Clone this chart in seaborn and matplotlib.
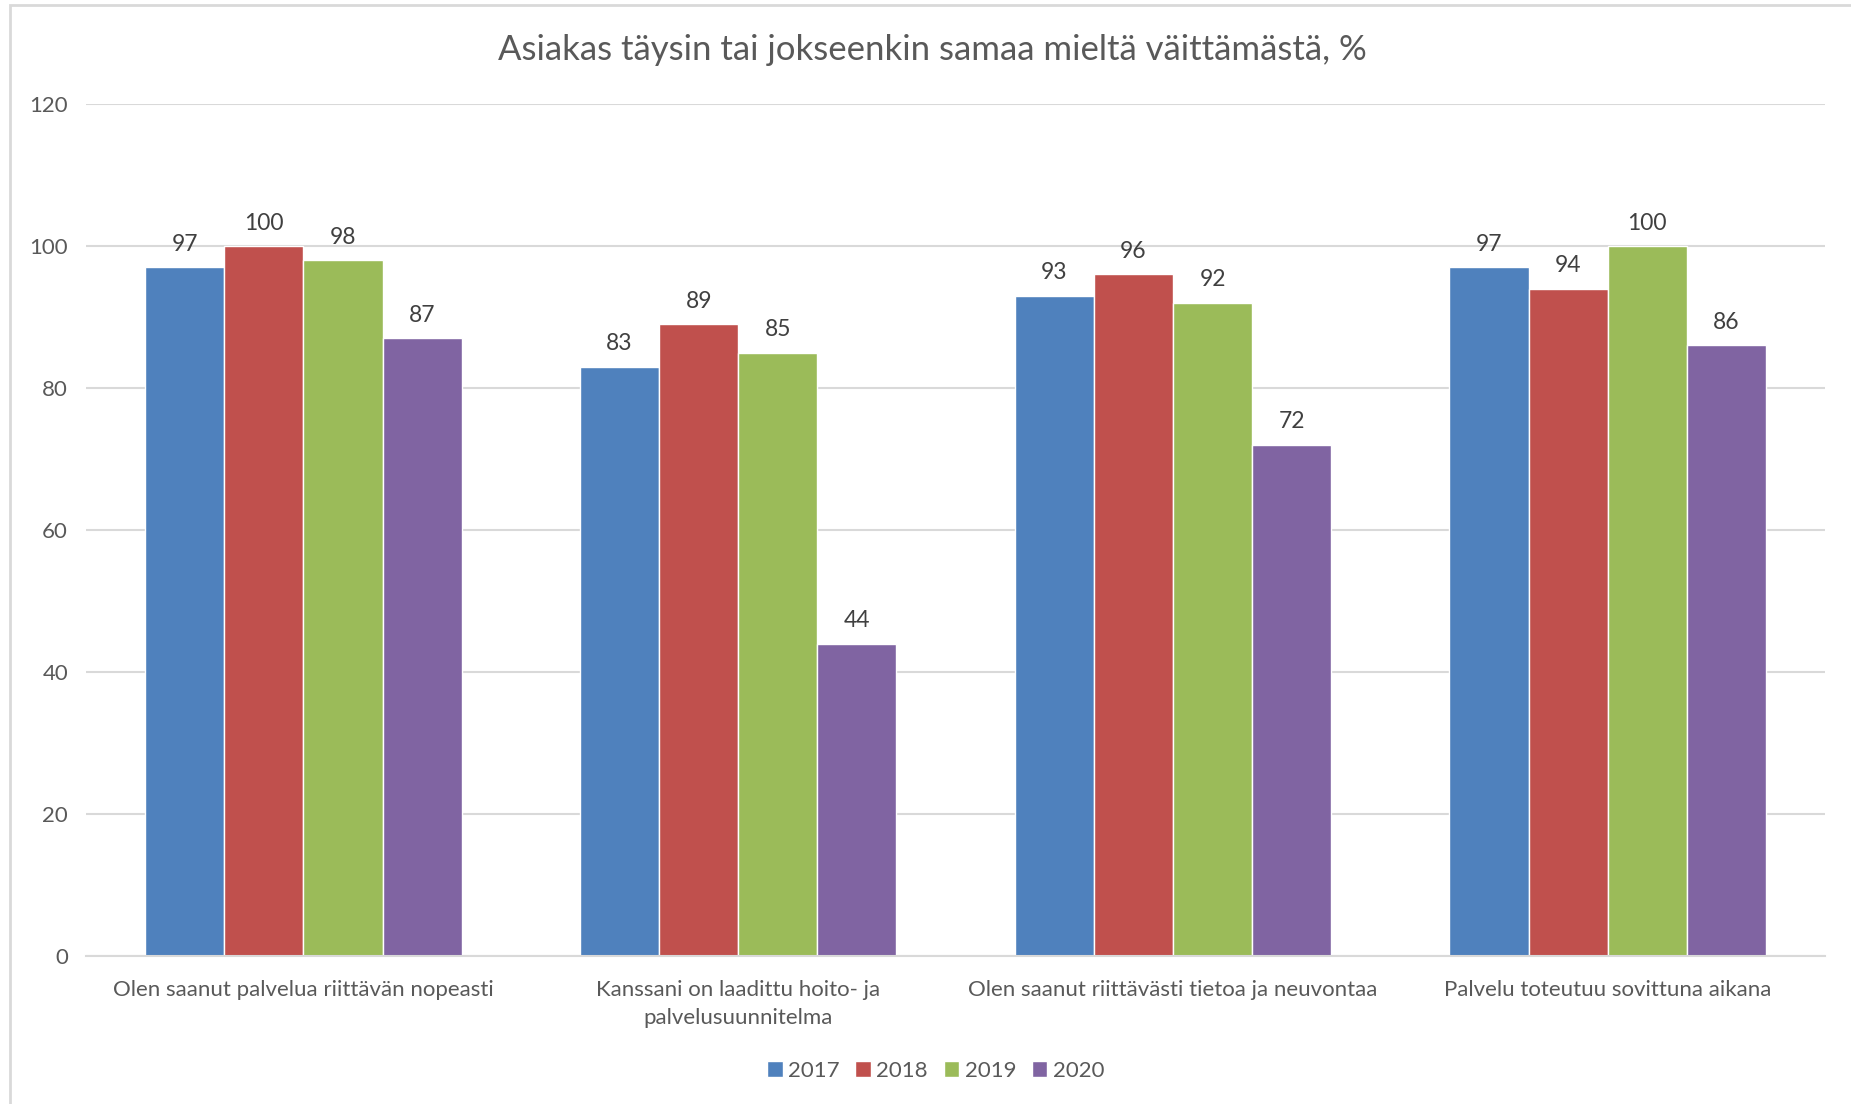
import matplotlib
matplotlib.use("Agg")
import matplotlib.pyplot as plt
import seaborn as sns
import pandas as pd
from matplotlib.patches import Rectangle

categories = [
    "Olen saanut palvelua riittävän nopeasti",
    "Kanssani on laadittu hoito- ja\npalvelusuunnitelma",
    "Olen saanut riittävästi tietoa ja neuvontaa",
    "Palvelu toteutuu sovittuna aikana",
]
years = ["2017", "2018", "2019", "2020"]
v2017 = [97, 83, 93, 97]
v2018 = [100, 89, 96, 94]
v2019 = [98, 85, 92, 100]
v2020 = [87, 44, 72, 86]
yticks = [0, 20, 40, 60, 80, 100, 120]
title = "Asiakas täysin tai jokseenkin samaa mieltä väittämästä, %"

colors = ["#4F81BD", "#C0504D", "#9BBB59", "#8064A2"]

rows = []
for y, vals in zip(years, [v2017, v2018, v2019, v2020]):
    for c, v in zip(categories, vals):
        rows.append({"cat": c, "year": y, "val": v})
df = pd.DataFrame(rows)

sns.set_theme(style="white")
plt.rcParams["font.family"] = ["Lato", "DejaVu Sans"]

fig = plt.figure(figsize=(18.51, 11.04), dpi=100)
ax = fig.add_axes([0.0465, 0.134, 0.986 - 0.0465, 0.9058 - 0.134])

sns.barplot(data=df, x="cat", y="val", hue="year", palette=colors,
            width=0.728, gap=0, ax=ax, legend=True,
            edgecolor="white", linewidth=1.0, saturation=1)

ax.set_ylim(0, 120)
ax.set_xlim(-0.5, 3.5)
ax.set_yticks(yticks)
ax.set_yticklabels([str(t) for t in yticks], fontsize=16, color="#595959")
ax.tick_params(axis="x", labelsize=16, labelcolor="#595959", length=0, pad=17)
for lbl in ax.get_xticklabels():
    lbl.set_linespacing(1.55)
ax.tick_params(axis="y", length=0, pad=13)
ax.set_xlabel("")
ax.set_ylabel("")
ax.yaxis.grid(True, color="#D9D9D9", linewidth=1.5)
ax.set_axisbelow(True)
for s in ["top", "right", "left"]:
    ax.spines[s].set_visible(False)
ax.spines["bottom"].set_color("#D9D9D9")
ax.spines["bottom"].set_linewidth(1.5)

for cont in ax.containers:
    ax.bar_label(cont, fmt="%d", padding=9, fontsize=16.5, color="#404040")

handles, labels = ax.get_legend_handles_labels()
ax.get_legend().remove()
fig.legend(handles, labels, loc="center", bbox_to_anchor=(0.5055, 0.030),
           ncol=4, frameon=False, fontsize=16, handlelength=0.7,
           handleheight=0.7, handletextpad=0.25, columnspacing=0.7,
           labelcolor="#595959")

fig.text(0.5035, 0.955, title, ha="center", va="center", fontsize=25,
         color="#595959")

fig.patches.append(Rectangle((10 / 1851, -0.05), 1.2, (1104 - 5) / 1104 + 0.05,
                             transform=fig.transFigure, fill=False,
                             edgecolor="#D9D9D9", linewidth=2, zorder=0))

fig.savefig("out.png", dpi=100)
